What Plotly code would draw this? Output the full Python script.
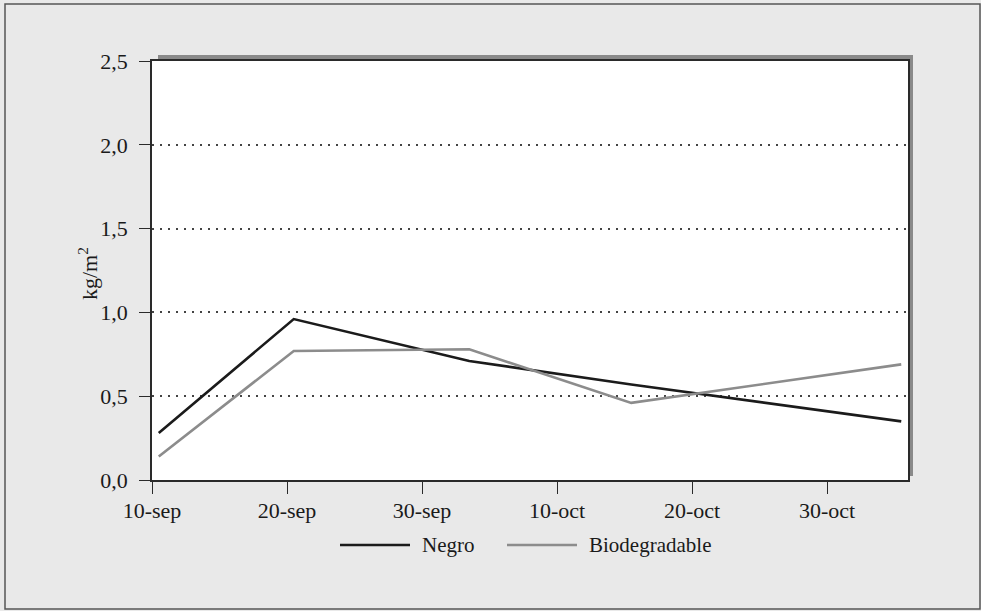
import plotly.graph_objects as go
import pandas as pd

# ---- data ----
dates = ["2005-09-10", "2005-09-20", "2005-10-03", "2005-10-15", "2005-11-04"]
negro = [0.28, 0.96, 0.71, 0.57, 0.35]
biodegradable = [0.14, 0.77, 0.78, 0.46, 0.69]
series_names = ["Negro", "Biodegradable"]
series_colors = ["#1b1b1b", "#8c8c8c"]
tick_dates = ["2005-09-10", "2005-09-20", "2005-09-30", "2005-10-10", "2005-10-20", "2005-10-30"]
tick_labels = ["10-sep", "20-sep", "30-sep", "10-oct", "20-oct", "30-oct"]
y_title = "kg/m<sup>2</sup>"

# points are drawn at the middle of each day (date axis, between tick marks)
x_pts = pd.to_datetime(dates) + pd.Timedelta(hours=12)

W, H = 981, 611
ML, MR, MT, MB = 152, 73, 61, 131
PW, PH = W - ML - MR, H - MT - MB

def px_x(px):
    return (px - ML) / PW

def px_y(py):
    return (H - MB - py) / PH

FONT = "Liberation Serif"
AX = "#2a2a2a"
TXT = "#1a1a1a"

fig = go.Figure()
for name, vals, col in zip(series_names, [negro, biodegradable], series_colors):
    fig.add_trace(go.Scatter(x=x_pts, y=vals, name=name, mode="lines",
                             line=dict(color=col, width=2.6), showlegend=False))

shapes = [
    # drop shadow of plot area
    dict(type="rect", xref="paper", yref="paper", layer="below",
         x0=px_x(158), x1=px_x(913), y0=px_y(476), y1=px_y(55),
         fillcolor="#8a8a8a", line=dict(width=0)),
    # white plot area
    dict(type="rect", xref="paper", yref="paper", layer="below",
         x0=0, x1=1, y0=0, y1=1, fillcolor="white", line=dict(width=0)),
    # outer frame
    dict(type="rect", xref="paper", yref="paper", layer="above",
         x0=px_x(5), x1=px_x(980), y0=px_y(609), y1=px_y(4),
         fillcolor="rgba(0,0,0,0)", line=dict(color="#555555", width=1.5)),
]

annotations = [dict(text=y_title, xref="paper", yref="paper",
                    x=px_x(88), y=px_y(274), xanchor="center", yanchor="middle",
                    textangle=-90, showarrow=False,
                    font=dict(family=FONT, size=22, color=TXT))]

# legend drawn as line samples + labels
legend_line_px = [(340, 410), (507, 577)]
legend_text_px = [420, 587]
LEG_Y = 545
for name, col, (a, b), tx in zip(series_names, series_colors, legend_line_px, legend_text_px):
    shapes.append(dict(type="line", xref="paper", yref="paper", layer="above",
                       x0=px_x(a), x1=px_x(b), y0=px_y(LEG_Y), y1=px_y(LEG_Y),
                       line=dict(color=col, width=2.6)))
    annotations.append(dict(text=name, xref="paper", yref="paper",
                            x=px_x(tx), y=px_y(LEG_Y), xanchor="left", yanchor="middle",
                            showarrow=False,
                            font=dict(family=FONT, size=21, color=TXT)))

fig.update_layout(
    width=W, height=H,
    margin=dict(l=ML, r=MR, t=MT, b=MB),
    paper_bgcolor="#e9e9e9",
    plot_bgcolor="rgba(0,0,0,0)",
    separators=",.",
    font=dict(family=FONT, size=22, color=TXT),
    showlegend=False,
    shapes=shapes,
    annotations=annotations,
)

fig.update_xaxes(
    type="date",
    range=["2005-09-10", "2005-11-05"],
    tickvals=pd.to_datetime(tick_dates), ticktext=tick_labels,
    ticks="outside", ticklen=12, tickwidth=1.3, tickcolor=AX,
    ticklabelstandoff=-2,
    showline=True, linecolor=AX, linewidth=1.6, mirror=True,
    showgrid=False, zeroline=False,
    tickfont=dict(family=FONT, size=22, color=TXT),
)
fig.update_yaxes(
    range=[0, 2.5], dtick=0.5, tick0=0, tickformat=".1f",
    ticks="outside", ticklen=11, tickwidth=1.3, tickcolor=AX,
    ticklabelstandoff=7,
    showline=True, linecolor=AX, linewidth=1.6, mirror=True,
    showgrid=True, gridcolor="#444444", gridwidth=1.5, griddash="2px,6px",
    zeroline=False,
    tickfont=dict(family=FONT, size=22, color=TXT),
)

fig.write_html("out.html")
